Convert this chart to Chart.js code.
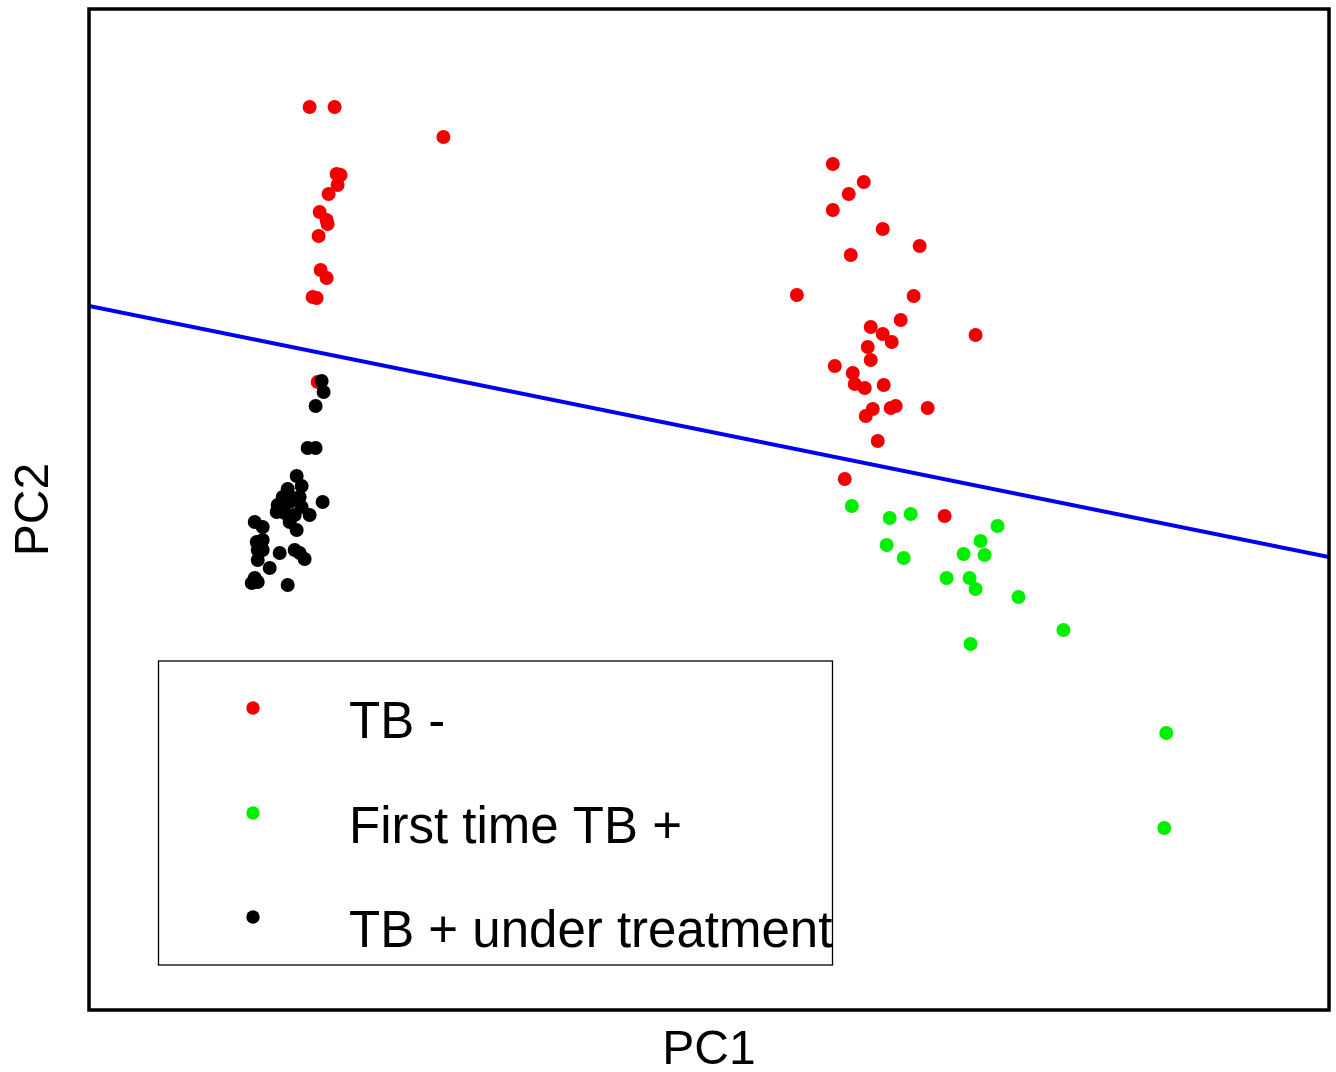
<!DOCTYPE html>
<html>
<head>
<meta charset="utf-8">
<script src="https://cdn.jsdelivr.net/npm/chart.js@4/dist/chart.umd.min.js"></script>
<style>
  html, body { margin: 0; padding: 0; background: #fff; }
  #wrap { width: 1336px; height: 1072px; }
</style>
</head>
<body>
<div id="wrap"><canvas id="c" width="1336" height="1072"></canvas></div>
<script>
// ---- Data (PC1, PC2 in arbitrary units) ----
const seriesLabels = ["TB -", "First time TB +", "TB + under treatment"];

const tbNegPC1 = [22.1, 24.6, 35.5, 24.8, 25.2, 24.9, 24.0, 23.1, 23.8, 23.9, 23.0, 23.2, 23.8, 22.4, 22.8, 22.9,
  74.5, 77.6, 76.1, 74.5, 79.5, 83.2, 76.3, 70.9, 82.6, 81.3, 78.3, 79.5, 80.4, 88.8, 78.0, 78.3, 74.7, 76.5,
  76.7, 77.7, 79.6, 78.5, 77.8, 80.3, 80.8, 84.0, 79.0, 75.7, 85.7];
const tbNegPC2 = [90.3, 90.3, 87.3, 83.6, 83.5, 82.5, 81.6, 79.8, 79.0, 78.6, 77.4, 74.0, 73.2, 71.3, 71.2, 62.8,
  84.6, 82.8, 81.6, 80.0, 78.1, 76.4, 75.5, 71.5, 71.4, 69.0, 68.3, 67.6, 66.8, 67.5, 66.3, 65.0, 64.4, 63.7,
  62.6, 62.2, 62.5, 60.1, 59.4, 60.2, 60.4, 60.2, 56.9, 53.1, 49.4];

const firstPosPC1 = [76.4, 80.2, 82.3, 91.0, 89.3, 79.9, 81.6, 87.6, 89.7, 85.9, 88.2, 88.8, 93.1, 97.6, 88.3, 107.9, 107.7];
const firstPosPC2 = [50.4, 49.2, 49.6, 48.4, 46.9, 46.5, 45.2, 45.6, 45.5, 43.2, 43.2, 42.1, 41.3, 38.0, 36.6, 27.7, 18.2];

const treatedPC1 = [23.3, 23.5, 22.7, 21.9, 22.7, 20.8, 21.3, 19.9, 19.4, 20.4, 21.1, 18.9, 20.1, 21.3, 23.4, 18.8,
  19.6, 20.6, 22.1, 20.1, 20.8, 16.6, 17.4, 17.4, 16.8, 16.9, 17.4, 19.1, 20.6, 21.1, 21.6, 16.9, 18.1, 16.6,
  16.3, 16.9, 19.9];
const treatedPC2 = [62.9, 61.8, 60.4, 56.2, 56.2, 53.4, 52.4, 52.1, 51.3, 51.2, 51.3, 50.5, 50.8, 50.3, 50.8, 49.8,
  49.7, 49.5, 49.5, 48.8, 48.0, 48.8, 48.3, 47.0, 46.8, 46.0, 46.0, 45.7, 46.0, 45.7, 45.1, 45.0, 44.2, 43.2,
  42.7, 42.8, 42.5];

// separating line (two end points on the plot edges)
const linePC1 = [0, 124.2];
const linePC2 = [70.4, 45.3];

const axisRangePC1 = [0, 124.2];
const axisRangePC2 = [0, 100.1];

const colors = ["#f00000", "#00ee00", "#000000"];

function pts(xs, ys) { return xs.map((x, i) => ({ x: x, y: ys[i] })); }

const FONT = "'Liberation Sans', Arial, sans-serif";

const framePlugin = {
  id: 'frameAndLegend',
  afterDraw(chart) {
    const ctx = chart.ctx;
    const a = chart.chartArea;
    ctx.save();
    // frame
    ctx.strokeStyle = '#000';
    ctx.lineWidth = 3.5;
    ctx.strokeRect(a.left, a.top, a.right - a.left, a.bottom - a.top);
    // legend box
    ctx.lineWidth = 1.3;
    ctx.strokeRect(158.5, 661, 674, 304);
    const rowY = [708, 813, 917];
    ctx.font = "51px " + FONT;
    ctx.textBaseline = 'alphabetic';
    ctx.textAlign = 'left';
    for (let i = 0; i < 3; i++) {
      const ds = chart.data.datasets[i];
      ctx.fillStyle = ds.backgroundColor;
      ctx.beginPath();
      ctx.arc(253, rowY[i], 6.7, 0, Math.PI * 2);
      ctx.fill();
      ctx.fillStyle = '#000';
      ctx.fillText(ds.label, 349, rowY[i] + 30);
    }
    ctx.restore();
  }
};

new Chart(document.getElementById('c'), {
  type: 'scatter',
  data: {
    datasets: [
      { label: seriesLabels[0], data: pts(tbNegPC1, tbNegPC2), backgroundColor: colors[0], borderWidth: 0, pointRadius: 7, order: 3 },
      { label: seriesLabels[1], data: pts(firstPosPC1, firstPosPC2), backgroundColor: colors[1], borderWidth: 0, pointRadius: 7, order: 2 },
      { label: seriesLabels[2], data: pts(treatedPC1, treatedPC2), backgroundColor: colors[2], borderWidth: 0, pointRadius: 7, order: 1 },
      { label: 'boundary', data: pts(linePC1, linePC2), type: 'line', showLine: true, borderColor: '#0000f0',
        borderWidth: 4, pointRadius: 0, fill: false, order: 0 }
    ]
  },
  options: {
    responsive: false,
    animation: false,
    devicePixelRatio: 1,
    layout: { padding: { top: 9, right: 5, left: 0, bottom: 0 } },
    plugins: { legend: { display: false }, tooltip: { enabled: false } },
    scales: {
      x: {
        type: 'linear', min: axisRangePC1[0], max: axisRangePC1[1],
        grid: { display: false, drawTicks: false },
        border: { display: false },
        ticks: { display: false },
        title: { display: true, text: 'PC1', color: '#000', font: { family: FONT, size: 48, lineHeight: 0.9 }, padding: 0 },
        afterFit(axis) { axis.height = 62; }
      },
      y: {
        type: 'linear', min: axisRangePC2[0], max: axisRangePC2[1],
        grid: { display: false, drawTicks: false },
        border: { display: false },
        ticks: { display: false },
        title: { display: true, text: 'PC2', color: '#000', font: { family: FONT, size: 48, lineHeight: 1 }, padding: { top: 11, bottom: 0 } },
        afterFit(axis) { axis.width = 89; }
      }
    }
  },
  plugins: [framePlugin]
});
</script>
</body>
</html>
